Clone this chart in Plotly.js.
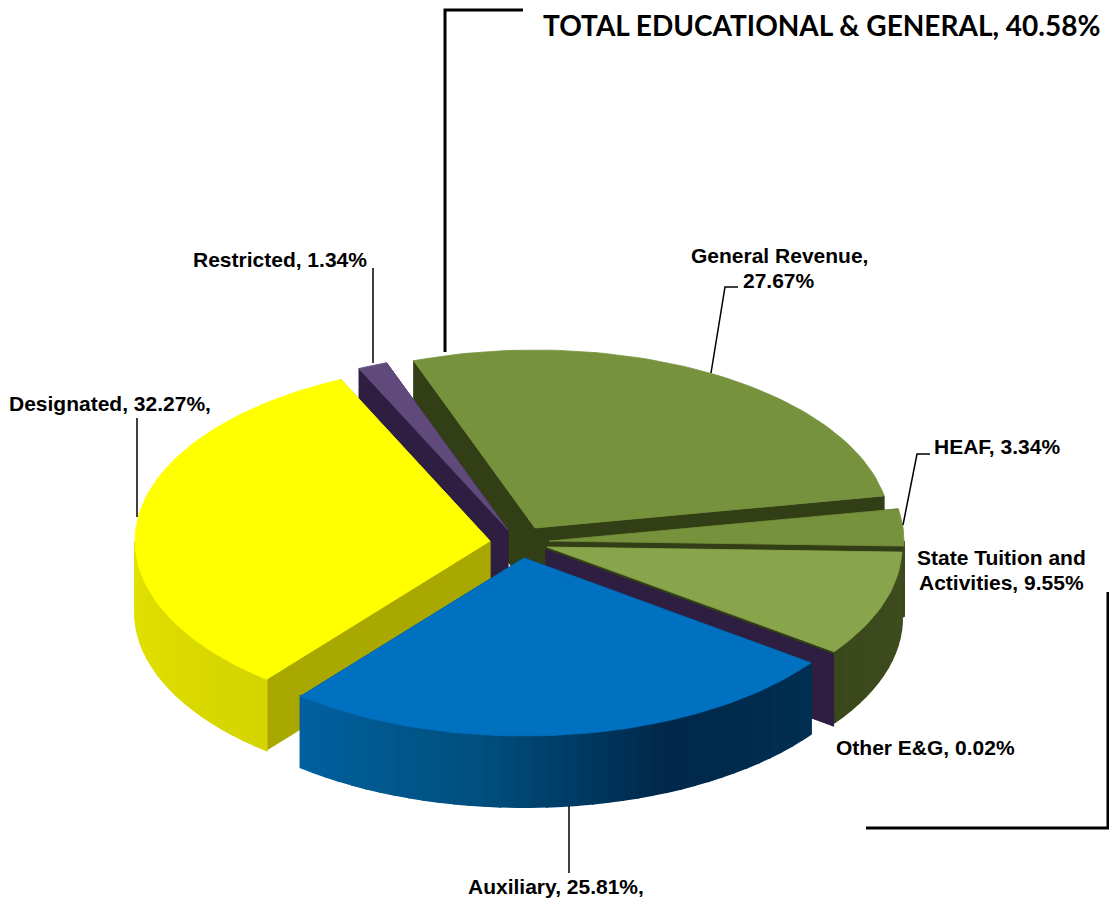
<!DOCTYPE html>
<html><head><meta charset="utf-8">
<script src="https://cdn.plot.ly/plotly-3.0.0.min.js"></script>
<style>html,body{margin:0;padding:0;background:#fff}</style></head>
<body><div id="chart" style="width:1109px;height:902px"></div>
<script>
// ---- chart data ----
const categories = ["General Revenue","HEAF","State Tuition and Activities","Other E&G","Auxiliary","Designated","Restricted"];
const shares = [27.67,3.34,9.55,0.02,25.81,32.27,1.34];
const groupLabel = "TOTAL EDUCATIONAL & GENERAL, 40.58%";
const labelTexts = [["General Revenue,","27.67%"],["HEAF, 3.34%"],["State Tuition and","Activities, 9.55%"],["Other E&G, 0.02%"],["Auxiliary, 25.81%,"],["Designated, 32.27%,"],["Restricted, 1.34%"]];

// ---- drawing style / projection of the exploded 3D pie ----
const RX=355, RY=178, DEPTH=71, START=-20, LINE_GAP=25;
const apexes = {"General Revenue":[535,528],"HEAF":[549,541],"State Tuition and Activities":[547,547],"Other E&G":[546,550],"Auxiliary":[524,558],"Designated":[490,541],"Restricted":[508,530]};
const topColors = {"General Revenue":"#76923c","HEAF":"#76923c","State Tuition and Activities":"#89a54b","Other E&G":"#2e1f42","Auxiliary":"#0070c0","Designated":"#ffff00","Restricted":"#604a7b"};
const cutColors = {"General Revenue":"#323e16","HEAF":"#323e16","State Tuition and Activities":"#323e16","Other E&G":"#2e1f42","Auxiliary":"#00406e","Designated":"#a8a800","Restricted":"#2e1f42"};
const rimStops = {"General Revenue":["#3b4a1c","#3b4a1c"],"HEAF":["#3b4a1c","#3b4a1c"],"State Tuition and Activities":["#3f4d1f","#3a481b"],"Other E&G":["#2e1f42","#2e1f42"],"Auxiliary":["#002f52","#00284a","#00507f","#00609f"],"Designated":["#d4d400","#e2e200"],"Restricted":["#2e1f42","#2e1f42"]};
const paintOrder = ["General Revenue","HEAF","State Tuition and Activities","Other E&G","Restricted","Designated","Auxiliary"];
const labelPlaces = [[779,255,"center"],[932,446,"left"],[1001,557,"center"],[834,747,"left"],[556,886,"center"],[7,403,"left"],[191,259,"left"]];
const leaders = [
 {pts:[[711,373],[725,287],[738,287]],w:1.5},
 {pts:[[903,525],[917,454],[930,454]],w:1.5},
 {pts:[[373,363],[373,268]],w:1.5},
 {pts:[[137,517],[137,418]],w:1.5},
 {pts:[[569,806],[569,873]],w:1.5},
 {pts:[[445,352],[445,10],[523,10]],w:3},
 {pts:[[1108,592],[1108,828],[866,828]],w:3}
];

function hex(c){return [1,3,5].map(i=>parseInt(c.substr(i,2),16));}
function mixStops(stops,f){
  const p=Math.min(Math.max(f,0),1)*(stops.length-1), i=Math.min(Math.floor(p),stops.length-2), t=p-i;
  const a=hex(stops[i]), b=hex(stops[i+1]);
  return "rgb("+a.map((v,k)=>Math.round(v+(b[k]-v)*t)).join(",")+")";
}
function rimPoint(ap,deg){const r=deg*Math.PI/180;return [ap[0]+RX*Math.sin(r), ap[1]-RY*Math.cos(r)];}
function poly(pts,color,name,w){
  return {type:"scatter",mode:"lines",x:pts.map(p=>p[0]),y:pts.map(p=>p[1]),fill:"toself",fillcolor:color,
    line:{color:color,width:w||0.8},hoverinfo:"name",name:name,showlegend:false};
}
const angleOf={}; let acc=START;
categories.forEach((c,i)=>{const a0=acc;acc+=shares[i]*3.6;angleOf[c]=[a0,acc];});

const traces=[];
paintOrder.forEach(c=>{
  const ap=apexes[c], [a0,a1]=angleOf[c];
  // two cut faces
  [a0,a1].forEach(a=>{
    const e=rimPoint(ap,a);
    traces.push(poly([ap,e,[e[0],e[1]+DEPTH],[ap[0],ap[1]+DEPTH],ap],cutColors[c],c));
  });
  // outer curved wall in shaded strips
  const lo=Math.max(a0,90), hi=Math.min(a1,270);
  if(hi>lo){
    const n=Math.max(1,Math.round((hi-lo)/2.5));
    for(let k=0;k<n;k++){
      const b0=lo+(hi-lo)*k/n, b1=lo+(hi-lo)*(k+1)/n;
      const p=rimPoint(ap,b0), q=rimPoint(ap,b1);
      traces.push(poly([p,q,[q[0],q[1]+DEPTH],[p[0],p[1]+DEPTH],p],mixStops(rimStops[c],(k+.5)/n),c,2));
    }
  }
  // top face
  const top=[ap], steps=Math.max(2,Math.ceil((a1-a0)/1.5));
  for(let k=0;k<=steps;k++) top.push(rimPoint(ap,a0+(a1-a0)*k/steps));
  top.push(ap);
  traces.push(poly(top,topColors[c],c));
});

const annotations=[];
categories.forEach((c,i)=>labelTexts[i].forEach((line,j)=>annotations.push({xref:"x",yref:"y",x:labelPlaces[i][0],y:labelPlaces[i][1]+j*LINE_GAP,xanchor:labelPlaces[i][2],yanchor:"middle",
  text:"<b>"+line+"</b>",showarrow:false,font:{family:"Liberation Sans, Arial, sans-serif",size:21,color:"#000"}})));
annotations.push({xref:"x",yref:"y",x:1102,y:25,xanchor:"right",yanchor:"middle",text:"<b>"+groupLabel+"</b>",showarrow:false,
  font:{family:"Lato, sans-serif",size:28,color:"#000"}});
const shapes=leaders.map(l=>({type:"path",xref:"x",yref:"y",layer:"above",
  path:l.pts.map((p,i)=>(i?"L":"M")+p[0]+","+p[1]).join(" "),line:{color:"#000",width:l.w}}));

Plotly.newPlot("chart",traces,{width:1109,height:902,margin:{l:0,r:0,t:0,b:0},paper_bgcolor:"#fff",plot_bgcolor:"#fff",
  showlegend:false,hovermode:"closest",
  xaxis:{range:[0,1109],visible:false,fixedrange:true},
  yaxis:{range:[902,0],visible:false,fixedrange:true},
  annotations:annotations,shapes:shapes},{displayModeBar:false});
</script></body></html>
